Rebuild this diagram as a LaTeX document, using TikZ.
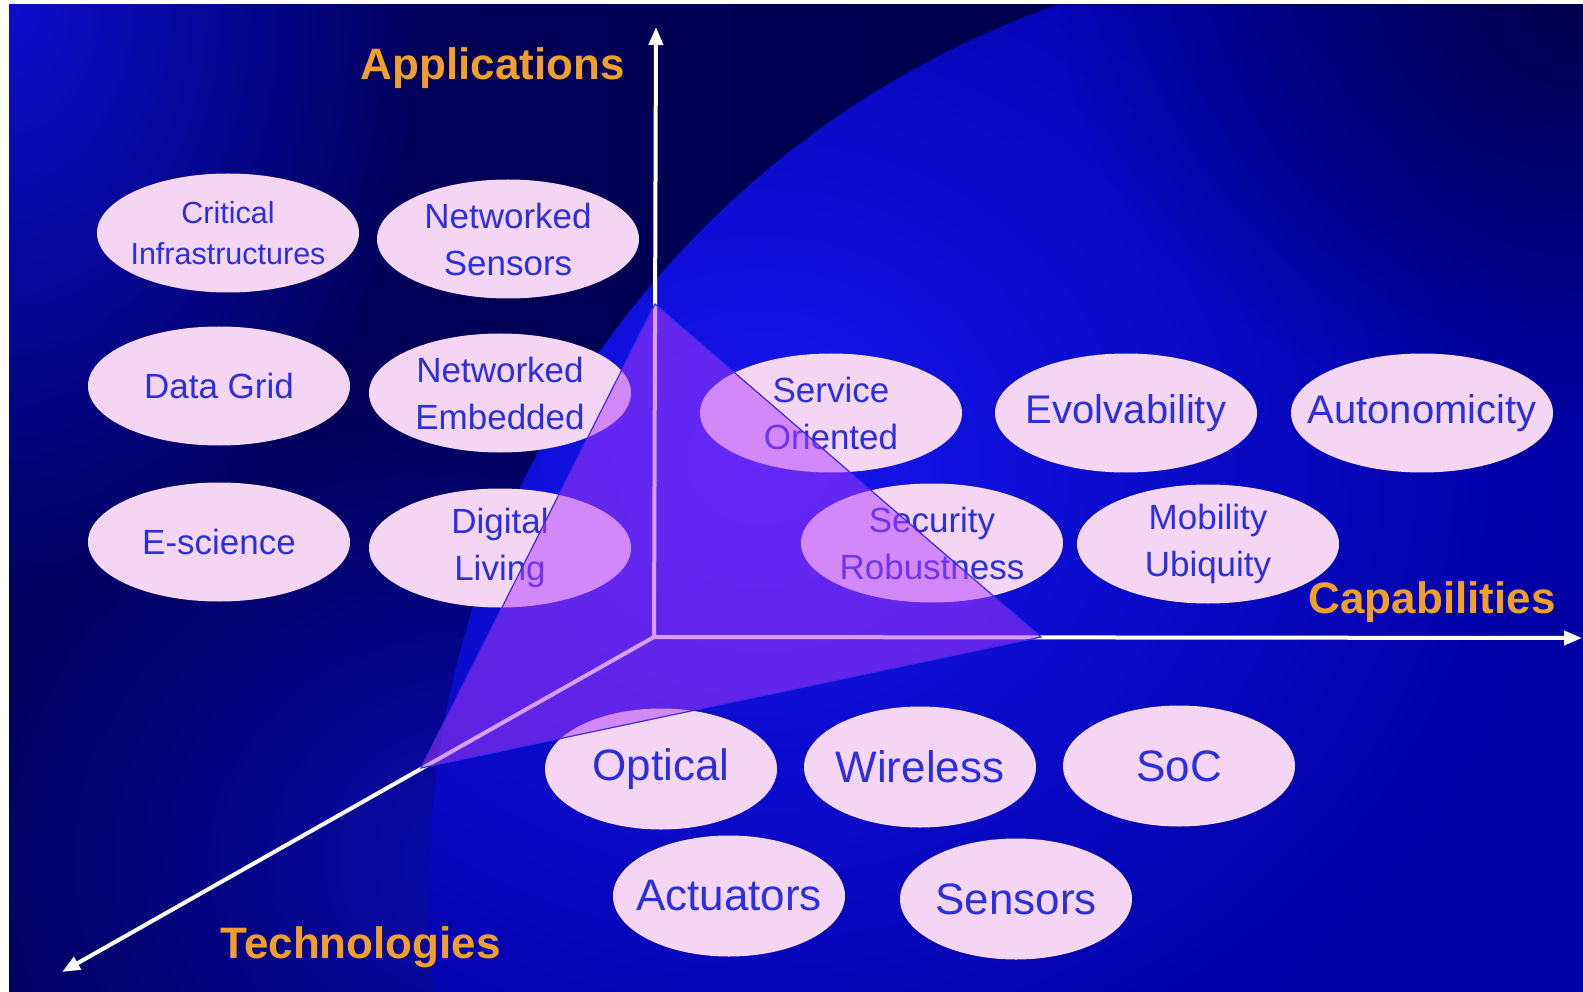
\documentclass[tikz,border=0pt]{standalone}
\usepackage{fontspec}
\setmainfont{Liberation Sans}
\usetikzlibrary{shapes.geometric,arrows.meta,fadings}

\definecolor{bgleft}{RGB}{14,14,205}
\definecolor{bgmid}{RGB}{0,0,95}
\definecolor{bgright}{RGB}{0,0,70}
\definecolor{bglow}{RGB}{10,10,175}
\definecolor{globe}{RGB}{0,0,165}
\definecolor{globelight}{RGB}{22,22,240}
\definecolor{globedark}{RGB}{0,0,75}
\definecolor{bubblefill}{RGB}{244,214,244}
\definecolor{bubbletext}{RGB}{45,45,225}
\definecolor{axistext}{RGB}{240,160,40}
\definecolor{plane}{RGB}{180,60,255}
\definecolor{planeedge}{RGB}{60,40,230}

\tikzfading[name=glow, inner color=transparent!0, outer color=transparent!100]

\tikzset{
  bubble/.style={ellipse, fill=bubblefill, minimum width=262pt, minimum height=119pt, inner sep=0pt},
  low bubble/.style={bubble, minimum width=232pt, minimum height=121pt},
  txt/.style={text=bubbletext, align=center, font=\fontsize{35}{47}\selectfont},
  small txt/.style={txt, font=\fontsize{30.5}{41}\selectfont},
  mid txt/.style={txt, font=\fontsize{40}{47}\selectfont},
  big txt/.style={txt, font=\fontsize{44}{50}\selectfont},
  axis/.style={draw=white, line width=4pt, -{Triangle[length=18pt,width=14pt]}},
  axislbl/.style={text=axistext, anchor=base west, font=\fontsize{44}{50}\selectfont\bfseries},
}

\begin{document}
\begin{tikzpicture}[x=1pt,y=-1pt]
% background
\fill[white] (0,0) rectangle (1583,992);
\shade[left color=bgmid, right color=bgright] (9,5) rectangle (1583,992);
\begin{scope}
  \clip (9,5) rectangle (1583,992);
  \fill[bgleft, path fading=glow] (9,5) ellipse [x radius=420, y radius=600];
  \fill[bglow, path fading=glow] (480,860) ellipse [x radius=520, y radius=460];
  \clip (1369,892) circle (940);
  \fill[globe] (9,5) rectangle (1583,992);
  \fill[globelight, path fading=glow] (760,460) ellipse [x radius=800, y radius=700];
  \fill[globedark, path fading=glow] (1583,5) ellipse [x radius=520, y radius=420];
\end{scope}
\useasboundingbox (0,0) rectangle (1583,992);

% applications
\node[bubble, label={[small txt]center:Critical\\Infrastructures}] (crit) at (228,233) {};
\node[bubble, label={[txt]center:Networked\\Sensors}] (netsens) at (508,239) {};
\node[bubble, label={[txt]center:Data Grid}] (grid) at (219,386) {};
\node[bubble, label={[txt]center:Networked\\Embedded}] (netemb) at (500,393) {};
\node[bubble, label={[txt]center:E-science}] (escience) at (219,542) {};
\node[bubble, label={[txt]center:Digital\\Living}] (living) at (500,548) {};

% capabilities
\node[bubble, label={[txt]center:Service\\Oriented}] (service) at (831,413) {};
\node[bubble, label={[mid txt]center:Evolvability}] (evolv) at (1126,413) {};
\node[bubble, label={[mid txt]center:Autonomicity}] (autonom) at (1422,413) {};
\node[bubble, label={[txt]center:Security\\Robustness}] (security) at (932,543) {};
\node[bubble, label={[txt]center:Mobility\\Ubiquity}] (mobility) at (1208,544) {};

% technologies
\node[low bubble, label={[big txt]center:Optical}] (optical) at (661,769) {};
\node[low bubble, label={[big txt]center:Wireless}] (wireless) at (920,767) {};
\node[low bubble, label={[big txt]center:SoC}] (soc) at (1179,766) {};
\node[low bubble, label={[big txt]center:Actuators}] (actuators) at (729,896) {};
\node[low bubble, label={[big txt]center:Sensors}] (sensors) at (1016,899) {};

% axes
\coordinate (o) at (654,637);
\coordinate (apptip) at (656,27);
\coordinate (captip) at (1582,638);
\coordinate (techtip) at (62,972);
\draw[axis] (o) -- (apptip);
\draw[axis] (o) -- (captip);
\draw[axis] (o) -- (techtip);

% plane
\coordinate (pa) at (655,304);
\coordinate (pc) at (1041,637);
\coordinate (pt) at (421,768);
\filldraw[fill=plane, fill opacity=0.5, draw=planeedge, line width=1.2pt] (pa) -- (pc) -- (pt) -- cycle;

\node[axislbl] (applbl) at (357,80) {Applications};
\node[axislbl] (caplbl) at (1305,613) {Capabilities};
\node[axislbl] (techlbl) at (217,958) {Technologies};
\end{tikzpicture}
\end{document}
